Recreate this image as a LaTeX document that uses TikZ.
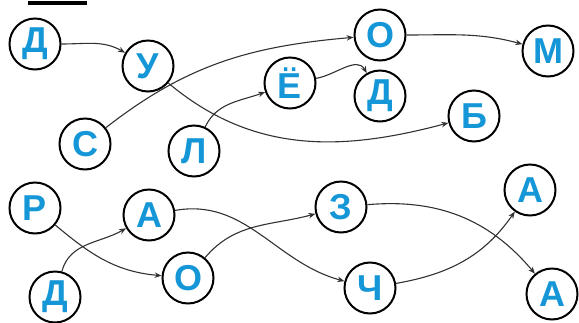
\documentclass[tikz,border=0pt]{standalone}
\usepackage{fontspec}
\setmainfont{Liberation Sans}
\usetikzlibrary{arrows.meta}
\definecolor{letterblue}{RGB}{20,150,215}
\definecolor{linegray}{RGB}{50,50,50}
\tikzset{
  lettercircle/.style={circle, draw=black, line width=2pt, minimum size=51pt, inner sep=0pt,
    text=letterblue, font=\fontsize{36}{36}\selectfont\bfseries},
  link/.style={draw=linegray, line width=1.1pt, -{Stealth[length=7pt,width=5.5pt]}}
}
\begin{document}
\begin{tikzpicture}[x=1pt,y=-1pt]
\useasboundingbox (0,0) rectangle (579,322);
\fill[black] (28,1) rectangle (87,5);
\node[lettercircle] (d1) at (35,44) {Д};
\node[lettercircle] (u) at (148,66) {У};
\node[lettercircle] (o1) at (380,35) {О};
\node[lettercircle] (m) at (548,51) {М};
\node[lettercircle] (yo) at (290,83) {Ё};
\node[lettercircle] (d2) at (380,96) {Д};
\node[lettercircle] (b) at (474,116) {Б};
\node[lettercircle] (s) at (85,144) {С};
\node[lettercircle] (l) at (194,151) {Л};
\node[lettercircle] (r) at (35,208) {Р};
\node[lettercircle] (a1) at (149,215) {А};
\node[lettercircle] (d3) at (55,297) {Д};
\node[lettercircle] (o2) at (188,278) {О};
\node[lettercircle] (z) at (341,207) {З};
\node[lettercircle] (ch) at (370,288) {Ч};
\node[lettercircle] (a2) at (530,190) {А};
\node[lettercircle] (a3) at (552,294) {А};
\draw[link] (d1) to[out=0,in=150] (u);
\draw[link] (s) to[out=38,in=185] (o1);
\draw[link] (u) to[out=-40,in=195] (b);
\draw[link] (l) to[out=65,in=200] (yo);
\draw[link] (yo) to[out=10,in=120] (d2);
\draw[link] (o1) to[out=0,in=165] (m);
\draw[link] (r) to[out=-40,in=175] (o2);
\draw[link] (d3) to[out=75,in=210] (a1);
\draw[link] (a1) to[out=10,in=165] (ch);
\draw[link] (o2) to[out=50,in=195] (z);
\draw[link] (z) to[out=5,in=130] (a3);
\draw[link] (ch) to[out=10,in=235] (a2);
\end{tikzpicture}
\end{document}
